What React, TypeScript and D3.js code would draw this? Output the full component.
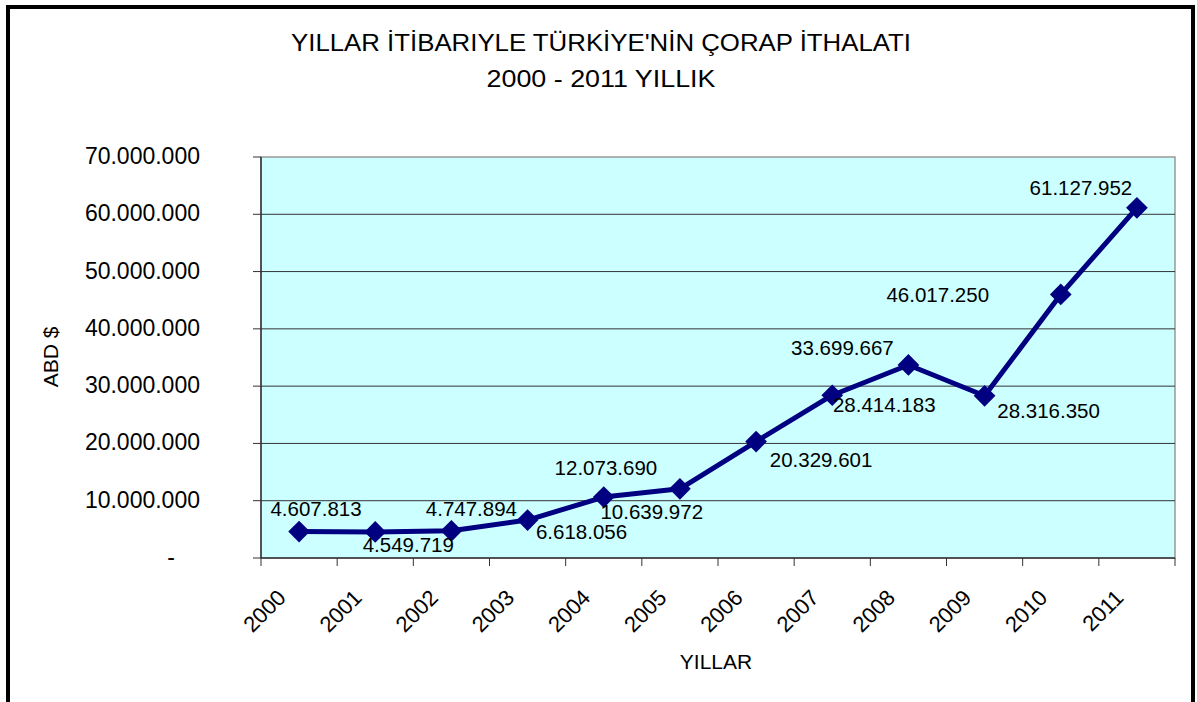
import React from "react";
import * as d3 from "d3";

const years = ["2000","2001","2002","2003","2004","2005","2006","2007","2008","2009","2010","2011"];
const imports = [4607813, 4549719, 4747894, 6618056, 10639972, 12073690, 20329601, 28414183, 33699667, 28316350, 46017250, 61127952];
const yTicks = [0, 10000000, 20000000, 30000000, 40000000, 50000000, 60000000, 70000000];
// label placement relative to each point (Excel manual label positions)
const labelDx = [17, 33, 20, 54, 48, -74, 65, 52, -66, 64, -123, -56];
const labelDy = [-16, 20, -15, 19, 22, -14, 25, 17, -10, 22, 8, -13];

const W = 1197, H = 702;
const m = { left: 261, right: 1175, top: 157, bottom: 558 };
const FONT = "'Liberation Sans', Arial, sans-serif";

const fmt = (v: number) => v === 0 ? "-" : d3.format(",")(v).replace(/,/g, ".");

export default function App() {
  const x = d3.scaleBand<string>().domain(years).range([m.left, m.right]).padding(0);
  const y = d3.scaleLinear().domain([0, 70000000]).range([m.bottom, m.top]);
  const cx = (i: number) => (x(years[i]) as number) + x.bandwidth() / 2;
  const line = d3.line<number>().x((_, i) => cx(i)).y(d => y(d));
  const diamond = d3.symbol().type(d3.symbolDiamond2).size(300)();
  const boundaries = years.map(yy => x(yy) as number).concat([m.right]);

  return (
    <svg width={W} height={H} style={{ position: "absolute", left: 0, top: 0 }} fontFamily={FONT}>
      <rect x={0} y={0} width={W} height={H} fill="#fff" />
      <rect x={8} y={7} width={1185} height={710} fill="none" stroke="#000" strokeWidth={4} />
      <text x={601} y={51} textAnchor="middle" fontSize={24} textLength={620} lengthAdjust="spacingAndGlyphs" fill="#000">YILLAR İTİBARIYLE TÜRKİYE'NİN ÇORAP İTHALATI</text>
      <text x={601} y={87} textAnchor="middle" fontSize={24} textLength={229} lengthAdjust="spacingAndGlyphs" fill="#000">2000 - 2011 YILLIK</text>

      <rect x={m.left} y={m.top} width={m.right - m.left} height={m.bottom - m.top} fill="#CCFFFF" stroke="#999" strokeWidth={1.5} />
      {yTicks.filter(t => t > 0 && t < 70000000).map(t => (
        <line key={t} x1={m.left} x2={m.right} y1={y(t)} y2={y(t)} stroke="#333" strokeWidth={1} />
      ))}
      <line x1={m.left} x2={m.left} y1={m.top} y2={m.bottom} stroke="#333" strokeWidth={1.5} />
      <line x1={m.left} x2={m.right} y1={m.bottom} y2={m.bottom} stroke="#333" strokeWidth={1.5} />
      {yTicks.map(t => (
        <g key={t}>
          <line x1={m.left - 8} x2={m.left} y1={y(t)} y2={y(t)} stroke="#333" strokeWidth={1} />
          <text x={t === 0 ? 175 : 200} y={y(t) + 7} textAnchor="end" fontSize={23} fill="#000">{fmt(t)}</text>
        </g>
      ))}
      {boundaries.map((b, i) => (
        <line key={i} x1={b} x2={b} y1={m.bottom} y2={m.bottom + 8} stroke="#333" strokeWidth={1} />
      ))}
      {years.map((yy, i) => (
        <text key={yy} transform={`translate(${cx(i) - 12},${599}) rotate(-45)`} textAnchor="end" fontSize={22} fill="#000">{yy}</text>
      ))}
      <text transform="translate(58,357) rotate(-90)" textAnchor="middle" fontSize={21} fill="#000">ABD $</text>
      <text x={716} y={669} textAnchor="middle" fontSize={21} fill="#000">YILLAR</text>

      <path d={line(imports) || ""} fill="none" stroke="#000080" strokeWidth={5} strokeLinejoin="round" />
      {imports.map((v, i) => (
        <path key={i} d={diamond || ""} transform={`translate(${cx(i)},${y(v)})`} fill="#000080" />
      ))}
      {imports.map((v, i) => (
        <text key={"l" + i} x={cx(i) + labelDx[i]} y={y(v) + labelDy[i]} textAnchor="middle" fontSize={20.5} fill="#000">{fmt(v)}</text>
      ))}
    </svg>
  );
}
